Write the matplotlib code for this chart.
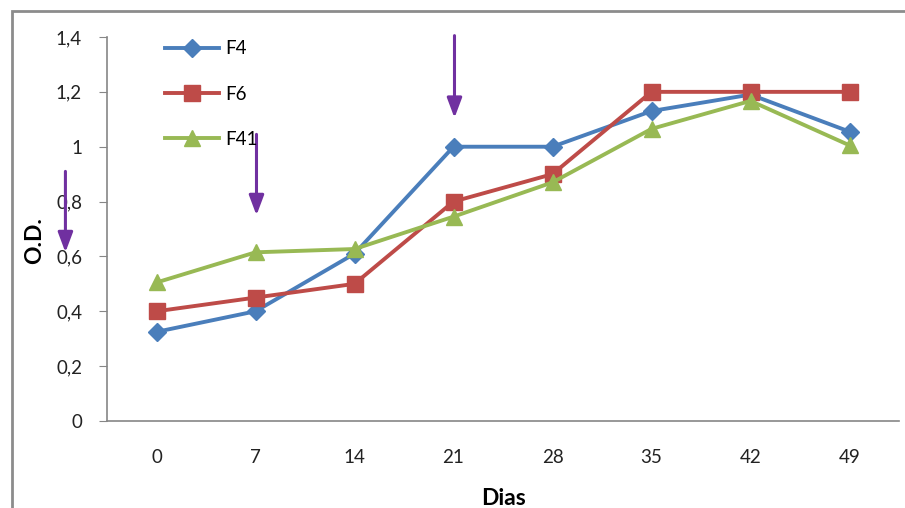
import matplotlib.pyplot as plt
from matplotlib.patches import Rectangle

plt.rcParams['font.family'] = ['Lato', 'DejaVu Sans']

dias = ['0', '7', '14', '21', '28', '35', '42', '49']
f4 = [0.325, 0.40, 0.61, 1.00, 1.00, 1.13, 1.19, 1.055]
f6 = [0.40, 0.45, 0.50, 0.80, 0.90, 1.20, 1.20, 1.20]
f41 = [0.505, 0.615, 0.627, 0.745, 0.87, 1.065, 1.167, 1.005]
yticks = [0, 0.2, 0.4, 0.6, 0.8, 1.0, 1.2, 1.4]
ytick_labels = ['0', '0,2', '0,4', '0,6', '0,8', '1', '1,2', '1,4']

fig = plt.figure(figsize=(9.05, 5.08), dpi=100)
# outer chart frame (cut off at right and bottom)
fig.patches.append(Rectangle((12 / 905, -0.1), 1.2, 1 - 11 / 508 + 0.1,
                             transform=fig.transFigure, fill=False,
                             edgecolor='#8c8c8c', linewidth=2))
ax = fig.add_axes([107 / 905, 87 / 508, 792 / 905, 384 / 508])

x = range(len(dias))
ax.plot(x, f4, color='#4A7EBB', lw=2.8, marker='D', ms=9.5, label='F4')
ax.plot(x, f6, color='#BE4B48', lw=2.8, marker='s', ms=11, label='F6')
ax.plot(x, f41, color='#98B954', lw=2.8, marker='^', ms=11.5, label='F41')

ax.set_xlim(-0.5, 7.5)
ax.set_ylim(0, 1.4)
ax.set_xticks(list(x))
ax.set_xticklabels(dias)
ax.set_yticks(yticks)
ax.set_yticklabels(ytick_labels)
ax.tick_params(axis='x', length=0, pad=20, labelsize=13.5, labelcolor='#222222')
ax.tick_params(axis='y', length=6, pad=12, color='#868686', labelsize=13.5,
               labelcolor='#222222')
for s in ['top', 'right']:
    ax.spines[s].set_visible(False)
for s in ['left', 'bottom']:
    ax.spines[s].set_color('#868686')
    ax.spines[s].set_linewidth(1.2)

ax.set_xlabel('Dias', fontsize=16.5, fontweight='bold')
ax.xaxis.set_label_coords(0.5, -0.175)
ax.set_ylabel('O.D.', fontsize=16.5, fontweight='bold')
ax.yaxis.set_label_coords(-0.078, 0.47)

leg = ax.legend(loc='upper left', bbox_to_anchor=(0.052, 1.035), frameon=False,
                fontsize=13.5, labelspacing=1.5, handlelength=2.9,
                handletextpad=0.3)

# arrows
arrow_style = dict(arrowstyle='-|>,head_width=0.45,head_length=1.2',
                   color='#7030A0', lw=2.2, shrinkA=0, shrinkB=0)
for xa, y0, y1 in [(-0.92, 0.91, 0.615), (1.01, 1.045, 0.75), (3.01, 1.405, 1.105)]:
    ax.annotate('', xy=(xa, y1), xytext=(xa, y0), arrowprops=arrow_style,
                annotation_clip=False)

fig.savefig('out.png', dpi=100)
